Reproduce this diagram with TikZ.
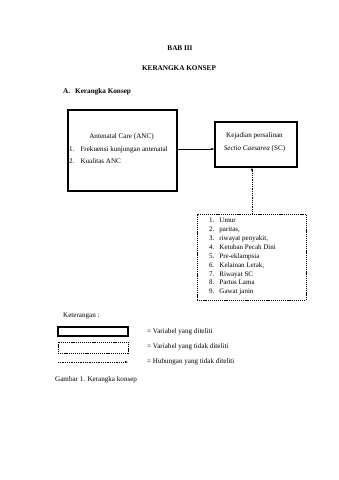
\documentclass[tikz,border=0pt]{standalone}
\usepackage{fontspec}
\setmainfont{Liberation Serif}
\usetikzlibrary{arrows.meta}
\begin{document}
\begin{tikzpicture}[x=1pt,y=-1pt,
  txt/.style={inner sep=0pt,font=\fontsize{7.1}{8}\selectfont},
  bold/.style={inner sep=0pt,font=\fontsize{7.2}{8}\selectfont\bfseries},
  mainbox/.style={draw,line width=1.3pt,inner sep=0pt},
  otherbox/.style={draw,line width=0.6pt,dash pattern=on 1.2pt off 0.9pt,inner sep=0pt},
  solidarrow/.style={line width=0.5pt,-{Latex[length=3pt,width=2.5pt]}},
  dotarrow/.style={line width=0.6pt,dash pattern=on 1pt off 0.8pt,-{Latex[length=3pt,width=2.5pt]}}]
\useasboundingbox (0,0) rectangle (339,480);
\fill[white] (0,0) rectangle (339,480);
% headings
\node[bold] (bab) at (180,48) {BAB III};
\node[bold] (judul) at (179,68) {KERANGKA KONSEP};
\node[bold,anchor=west] (sub) at (63,92) {A.\hspace{5pt}Kerangka Konsep};
% ANC box
\node[mainbox,minimum width=109pt,minimum height=81pt] (anc) at (122.5,150.5) {};
\node[txt] (anct) at (121.5,137) {Antenatal Care (ANC)};
\node[txt,anchor=west] (anc1) at (69,150) {1.\hspace{6pt}Frekuensi kunjungan antenatal};
\node[txt,anchor=west] (anc2) at (69,161) {2.\hspace{6pt}Kualitas ANC};
% SC box
\node[mainbox,minimum width=82pt,minimum height=45pt] (sc) at (256,144.5) {};
\node[txt] (sct1) at (254.5,136) {Kejadian persalinan};
\node[txt] (sct2) at (254.5,149) {\itshape Sectio Caesarea \upshape(SC)};
% other factors box
\node[otherbox,minimum width=109pt,minimum height=86pt] (oth) at (251.5,257) {};
\node[inner sep=0pt,anchor=west,font=\fontsize{7}{8.9}\selectfont] (othl) at (209,256.5) {%
\begin{tabular}{@{}l@{\hspace{5pt}}l@{}}
1. & Umur\\
2. & paritas,\\
3. & riwayat penyakit,\\
4. & Ketuban Pecah Dini\\
5. & Pre-eklampsia\\
6. & Kelainan Letak,\\
7. & Riwayat SC\\
8. & Partus Lama\\
9. & Gawat janin
\end{tabular}};
% connectors
\draw[solidarrow] (anc.east |- 0,149) -- (sc.west |- 0,149);
\draw[dotarrow] (oth.north -| 252,0) -- (sc.south -| 252,0);
% legend
\node[txt,anchor=west] (ket) at (63,316) {Keterangan :};
\node[mainbox,minimum width=70pt,minimum height=9pt] (lg1) at (93,331.5) {};
\node[otherbox,minimum width=70pt,minimum height=11pt] (lg2) at (93,347.5) {};
\coordinate (lg3a) at (58,362);
\coordinate (lg3b) at (128,362);
\draw[dotarrow] (lg3a) -- (lg3b);
\node[txt,anchor=west] (lt1) at (147,332) {= Variabel yang diteliti};
\node[txt,anchor=west] (lt2) at (147,347) {= Variabel yang tidak diteliti};
\node[txt,anchor=west] (lt3) at (147,362) {= Hubungan yang tidak diteliti};
\node[txt,anchor=west] (gbr) at (55,380) {Gambar 1. Kerangka konsep};
\end{tikzpicture}
\end{document}
